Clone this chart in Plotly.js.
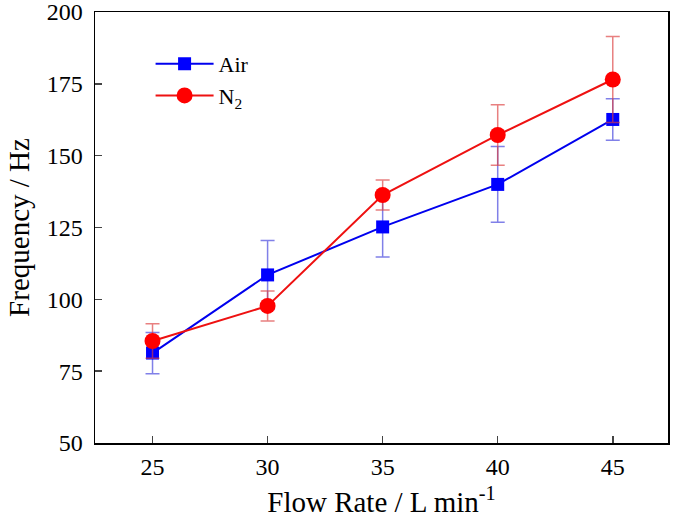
<!DOCTYPE html>
<html>
<head>
<meta charset="utf-8">
<script src="https://cdn.plot.ly/plotly-3.0.1.min.js"></script>
<style>html,body{margin:0;padding:0;background:#fff;}</style>
</head>
<body>
<div id="chart" style="width:685px;height:519px;"></div>
<script>
const flowRate = [25, 30, 35, 40, 45];
const airFreq = [81.3, 108.5, 125.2, 140.0, 162.6];
const airErr = [7.2, 12.0, 10.5, 13.2, 7.2];
const n2Freq = [85.5, 97.7, 136.3, 157.2, 176.5];
const n2Err = [6.0, 5.2, 5.2, 10.5, 15.0];
const xTicks = [25, 30, 35, 40, 45];
const yTicks = [50, 75, 100, 125, 150, 175, 200];

const traces = [
  {
    x: flowRate, y: airFreq, name: 'Air', type: 'scatter', mode: 'lines+markers',
    line: {color: '#0000ee', width: 2},
    marker: {symbol: 'square', size: 13, color: '#0000ff'},
    error_y: {type: 'data', array: airErr, visible: true, color: 'rgba(60,60,220,0.65)', thickness: 1.5, width: 7}
  },
  {
    x: flowRate, y: n2Freq, name: 'N<sub>2</sub>', type: 'scatter', mode: 'lines+markers',
    line: {color: '#ee1111', width: 2},
    marker: {symbol: 'circle', size: 16, color: '#ff0000'},
    error_y: {type: 'data', array: n2Err, visible: true, color: 'rgba(220,60,60,0.65)', thickness: 1.5, width: 7}
  }
];

const fontFam = '"Liberation Serif", "Times New Roman", serif';
const layout = {
  width: 685, height: 519,
  margin: {l: 95, r: 17, t: 12, b: 76},
  paper_bgcolor: '#fff', plot_bgcolor: '#fff',
  font: {family: fontFam, color: '#000', size: 22},
  showlegend: true,
  legend: {x: 0.097, y: 0.928, xanchor: 'left', yanchor: 'top', bgcolor: 'rgba(0,0,0,0)', font: {size: 22, family: fontFam}, itemwidth: 58, tracegroupgap: 0},
  xaxis: {
    range: [22.5, 47.4], tickvals: xTicks, ticks: 'inside', ticklen: 7, tickwidth: 1.5,
    showline: true, linewidth: 1.5, linecolor: '#000', mirror: true, showgrid: false, zeroline: false,
    tickfont: {size: 24, family: fontFam}, ticklabelstandoff: 2, ticklabeloverflow: 'allow',
    title: {text: 'Flow Rate / L min<sup>-1</sup>', font: {size: 29, family: fontFam}, standoff: 12}
  },
  yaxis: {
    range: [50, 200], tickvals: yTicks, ticks: 'inside', ticklen: 7, tickwidth: 1.5,
    showline: true, linewidth: 1.5, linecolor: '#000', mirror: true, showgrid: false, zeroline: false,
    tickfont: {size: 24, family: fontFam}, ticklabelstandoff: 6, ticklabeloverflow: 'allow',
    title: {text: 'Frequency / Hz', font: {size: 29, family: fontFam}, standoff: 8}
  }
};
Plotly.newPlot('chart', traces, layout, {displayModeBar: false, staticPlot: true});
</script>
</body>
</html>
